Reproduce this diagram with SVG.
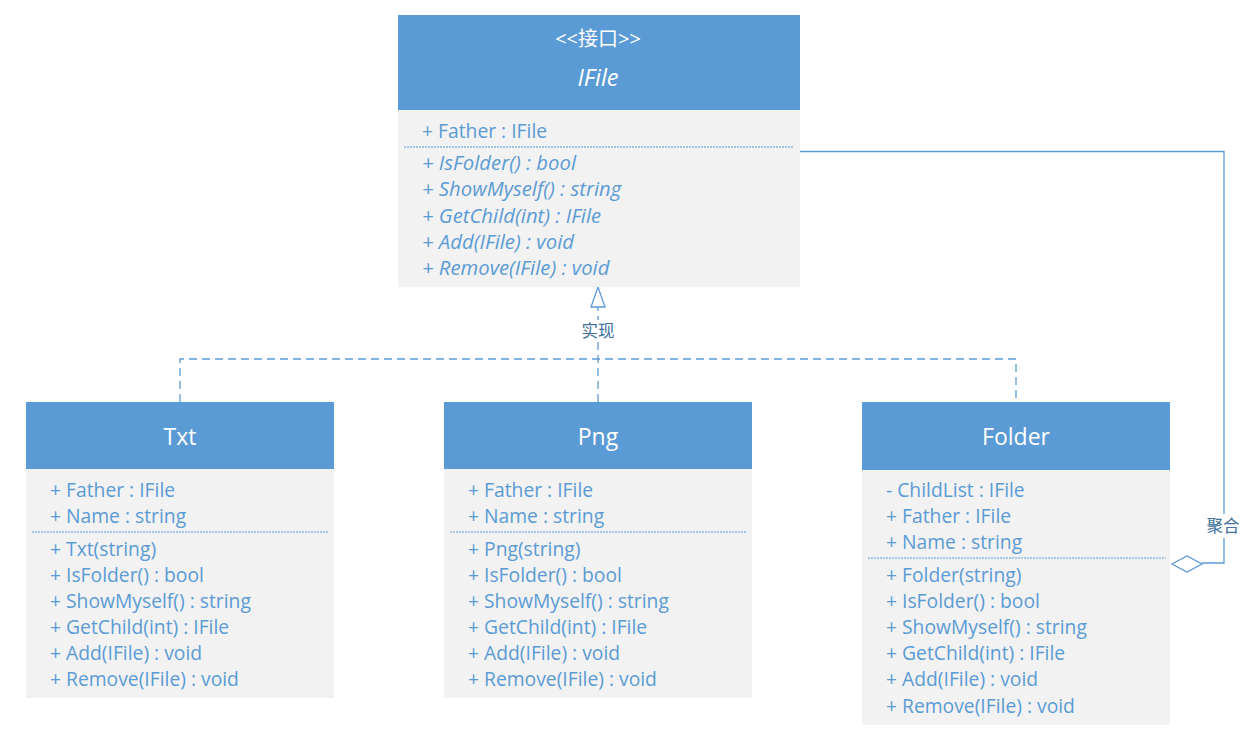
<svg xmlns="http://www.w3.org/2000/svg" width="1259" height="742" viewBox="0 0 1259 742">
<style>
.hdr{fill:#5b9bd5}
.body{fill:#f2f2f2}
.t{font-family:"Open Sans","Noto Sans","Noto Sans CJK SC",sans-serif;font-size:19.3px;fill:#5b9bd5;dominant-baseline:central}
.it{font-style:italic;font-size:20.3px}
.ht{font-family:"Open Sans","Noto Sans","Noto Sans CJK SC",sans-serif;font-size:23px;fill:#ffffff;text-anchor:middle;dominant-baseline:central}
.sep{stroke:#5b9bd5;stroke-width:1;stroke-dasharray:2 1;fill:none}
.dash{stroke:#5b9bd5;stroke-width:1.3;stroke-dasharray:8 5;fill:none}
.solid{stroke:#5b9bd5;stroke-width:1.3;fill:none}
.lbl{font-family:"Noto Sans CJK SC","Noto Sans",sans-serif;font-size:16.5px;fill:#41719c;text-anchor:middle;dominant-baseline:central}
</style>
<rect width="1259" height="742" fill="#ffffff"/>
<g id="connectors">
<path class="dash" d="M598,402 V307"/>
<path class="dash" d="M180,402 V359 H1016 V402"/>
<polygon points="598,287 591,307 605,307" fill="#ffffff" stroke="#5b9bd5" stroke-width="1.3"/>
<rect x="578" y="320" width="40" height="20" fill="#ffffff"/>
<text class="lbl" x="598" y="330">实现</text>
<path class="solid" d="M800,151.5 H1224 V563 H1202"/>
<polygon points="1172,564 1187,556 1202,564 1187,572" fill="#ffffff" stroke="#5b9bd5" stroke-width="1.3"/>
<rect x="1204" y="514" width="40" height="24" fill="#ffffff"/>
<text class="lbl" x="1223" y="525">聚合</text>
</g>
<g id="IFile">
<rect class="body" x="398" y="15" width="402" height="272"/>
<rect class="hdr" x="398" y="15" width="402" height="95"/>
<text class="ht" x="598" y="38" style="font-size:20px">&lt;&lt;接口&gt;&gt;</text>
<text class="ht" x="598" y="77" style="font-size:23.5px;font-style:italic">IFile</text>
<text class="t" x="422" y="130">+ Father : IFile</text>
<line class="sep" x1="404" y1="147" x2="794" y2="147"/>
<text class="t it" x="422" y="162">+ IsFolder() : bool</text>
<text class="t it" x="422" y="188">+ ShowMyself() : string</text>
<text class="t it" x="422" y="215">+ GetChild(int) : IFile</text>
<text class="t it" x="422" y="241">+ Add(IFile) : void</text>
<text class="t it" x="422" y="267">+ Remove(IFile) : void</text>
</g>
<g id="Txt">
<rect class="body" x="26" y="402" width="308" height="296"/>
<rect class="hdr" x="26" y="402" width="308" height="67"/>
<text class="ht" x="180" y="436">Txt</text>
<text class="t" x="50" y="489">+ Father : IFile</text>
<text class="t" x="50" y="515">+ Name : string</text>
<line class="sep" x1="32" y1="532" x2="328" y2="532"/>
<text class="t" x="50" y="548">+ Txt(string)</text>
<text class="t" x="50" y="574">+ IsFolder() : bool</text>
<text class="t" x="50" y="600">+ ShowMyself() : string</text>
<text class="t" x="50" y="626">+ GetChild(int) : IFile</text>
<text class="t" x="50" y="652">+ Add(IFile) : void</text>
<text class="t" x="50" y="678">+ Remove(IFile) : void</text>
</g>
<g id="Png">
<rect class="body" x="444" y="402" width="308" height="296"/>
<rect class="hdr" x="444" y="402" width="308" height="67"/>
<text class="ht" x="598" y="436">Png</text>
<text class="t" x="468" y="489">+ Father : IFile</text>
<text class="t" x="468" y="515">+ Name : string</text>
<line class="sep" x1="450" y1="532" x2="746" y2="532"/>
<text class="t" x="468" y="548">+ Png(string)</text>
<text class="t" x="468" y="574">+ IsFolder() : bool</text>
<text class="t" x="468" y="600">+ ShowMyself() : string</text>
<text class="t" x="468" y="626">+ GetChild(int) : IFile</text>
<text class="t" x="468" y="652">+ Add(IFile) : void</text>
<text class="t" x="468" y="678">+ Remove(IFile) : void</text>
</g>
<g id="Folder">
<rect class="body" x="862" y="402" width="308" height="323"/>
<rect class="hdr" x="862" y="402" width="308" height="68"/>
<text class="ht" x="1016" y="436">Folder</text>
<text class="t" x="886" y="489">- ChildList : IFile</text>
<text class="t" x="886" y="515">+ Father : IFile</text>
<text class="t" x="886" y="541">+ Name : string</text>
<line class="sep" x1="868" y1="558" x2="1166" y2="558"/>
<text class="t" x="886" y="574">+ Folder(string)</text>
<text class="t" x="886" y="600">+ IsFolder() : bool</text>
<text class="t" x="886" y="626">+ ShowMyself() : string</text>
<text class="t" x="886" y="652">+ GetChild(int) : IFile</text>
<text class="t" x="886" y="678">+ Add(IFile) : void</text>
<text class="t" x="886" y="705">+ Remove(IFile) : void</text>
</g>
</svg>
